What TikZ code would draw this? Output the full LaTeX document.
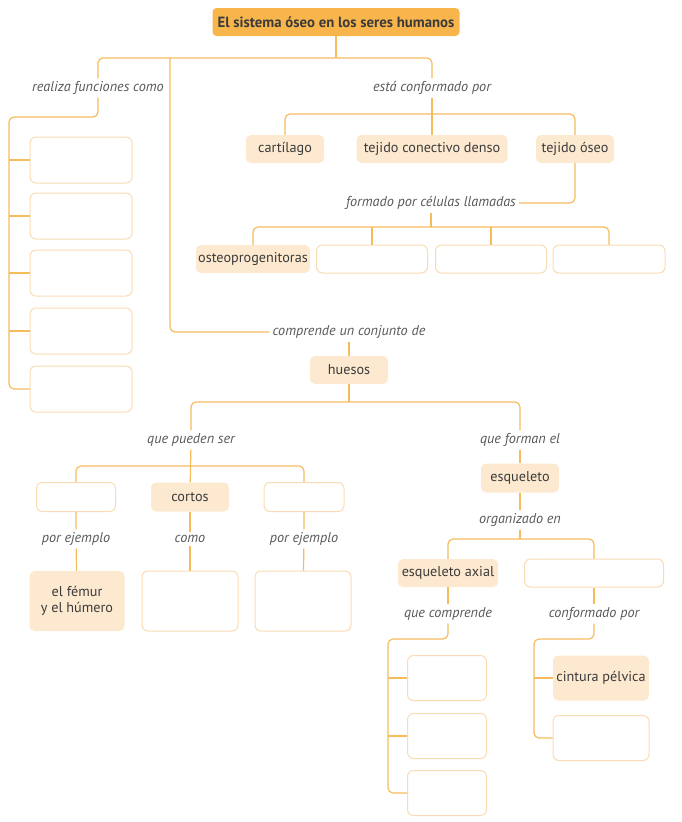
\documentclass[tikz,border=0pt]{standalone}
\usepackage{fontspec}
\setmainfont{PT Sans}
\definecolor{naranja}{HTML}{F8B54B}
\definecolor{crema}{HTML}{FDE9CF}
\definecolor{linea}{HTML}{F5BC5C}
\definecolor{borde}{HTML}{FADCB4}
\definecolor{texto}{HTML}{3B3B3B}
\begin{document}
\begin{tikzpicture}[x=1pt, y=-1pt, font=\fontsize{14.2}{16}\selectfont, text=texto,
	conn/.style={draw=linea, line width=1.2pt, rounded corners=5pt},
	titulo/.style={fill=naranja, rounded corners=4pt, font=\fontsize{14.8}{17}\selectfont\bfseries, inner sep=0pt},
	lleno/.style={fill=crema, rounded corners=5pt, inner sep=0pt, align=center},
	vacio/.style={draw=borde, line width=1pt, fill=white, rounded corners=6pt, inner sep=0pt},
	rotulo/.style={font=\fontsize{14.2}{16}\selectfont\itshape, text=texto!85, inner sep=3pt}]
				\useasboundingbox (0,0) rectangle (681,822);
				\path (336,58) coordinate (tb) (170,58) coordinate (tb2) (9,117) coordinate (L) (432,114) coordinate (cb) (431,227) coordinate (fb) (349,402) coordinate (hb) (191,466) coordinate (pb) (520,539) coordinate (ob) (388,639) coordinate (qL) (534,639) coordinate (pL);
				\node[titulo, minimum width=247, minimum height=28] (T) at (336,22) {El sistema óseo en los seres humanos};
				\node[rotulo] (fun) at (98,88) {realiza funciones como};
				\node[rotulo] (conf) at (432,88) {está conformado por};
				\foreach \i/\y in {1/160, 2/216, 3/273, 4/331, 5/389}{
				\node[vacio, minimum width=102, minimum height=46] (f\i) at (81,\y) {};
				}
				\node[lleno, minimum width=78, minimum height=28] (cart) at (285,149) {cartílago};
				\node[lleno, minimum width=151, minimum height=28] (tejc) at (432,149) {tejido conectivo denso};
				\node[lleno, minimum width=78, minimum height=28] (teo) at (575,149) {tejido óseo};
				\node[rotulo] (form) at (431,203) {formado por células llamadas};
				\node[lleno, minimum width=114, minimum height=28] (osteo) at (253,259) {osteoprogenitoras};
				\foreach \i/\x/\w in {2/372/111, 3/491/111, 4/609/112}{
				\node[vacio, minimum width=\w, minimum height=28] (c\i) at (\x,259) {};
				}
				\node[rotulo] (comp) at (349,332) {comprende un conjunto de};
				\node[lleno, minimum width=78, minimum height=28] (hue) at (349,370) {huesos};
				\node[rotulo] (pue) at (191,440) {que pueden ser};
				\node[rotulo] (for) at (520,440) {que forman el};
				\node[vacio, minimum width=79, minimum height=29] (t1) at (76,497) {};
				\node[lleno, minimum width=78, minimum height=29] (cor) at (190,497) {cortos};
				\node[vacio, minimum width=80, minimum height=29] (t3) at (304,497) {};
				\foreach \i/\x/\t in {1/76/{por ejemplo}, 2/190/{como}, 3/304/{por ejemplo}}{
				\node[rotulo] (e\i) at (\x,539) {\t};
				}
				\node[lleno, minimum width=95, minimum height=60] (n1) at (77,601) {el fémur\\y el húmero};
				\node[vacio, minimum width=96, minimum height=60] (n2) at (190,601) {};
				\node[vacio, minimum width=96, minimum height=60] (n3) at (303,601) {};
				\node[lleno, minimum width=78, minimum height=29] (esq) at (520,478) {esqueleto};
				\node[rotulo] (org) at (520,520) {organizado en};
				\node[lleno, minimum width=100, minimum height=28] (axi) at (448,573) {esqueleto axial};
				\node[vacio, minimum width=139, minimum height=28] (r2) at (594,573) {};
				\node[rotulo] (qc) at (448,614) {que comprende};
				\node[rotulo] (cp) at (594,614) {conformado por};
				\foreach \i/\y in {1/678, 2/736, 3/793}{
				\node[vacio, minimum width=79, minimum height=45] (a\i) at (447,\y) {};
				}
				\node[lleno, minimum width=96, minimum height=45] (p1) at (601,678) {cintura pélvica};
				\node[vacio, minimum width=96, minimum height=45] (p2) at (601,738) {};
				\draw[conn] (T) -- (tb);
				\draw[conn] (fun) |- (tb) -| (conf);
				\draw[conn] (tb2) |- (comp);
				\draw[conn] (fun) |- (L) |- (f5);
				\foreach \i in {1,...,4}{
				\draw[conn] (f\i.west -| L) -- (f\i.west);
				}
				\draw[conn] (conf) -- (tejc);
				\draw[conn] (cart) |- (cb) -| (teo);
				\draw[conn] (teo) |- (form);
				\draw[conn] (form) -- (fb);
				\draw[conn] (osteo) |- (fb) -| (c4);
				\foreach \i in {2,3}{
				\draw[conn] (c\i |- fb) -- (c\i);
				}
				\draw[conn] (comp) -- (hue);
				\draw[conn] (hue) -- (hb);
				\draw[conn] (pue) |- (hb) -| (for);
				\draw[conn] (pue) -- (cor);
				\draw[conn] (t1) |- (pb) -| (t3);
				\draw[conn] (t1) -- (e1) (e1) -- (n1);
				\draw[conn] (cor) -- (e2) (e2) -- (n2);
				\draw[conn] (t3) -- (e3) (e3) -- (n3);
				\draw[conn] (for) -- (esq);
				\draw[conn] (esq) -- (org);
				\draw[conn] (org) -- (ob);
				\draw[conn] (axi) |- (ob) -| (r2);
				\draw[conn] (axi) -- (qc);
				\draw[conn] (r2) -- (cp);
				\draw[conn] (qc) |- (qL) |- (a3);
				\foreach \i in {1,2}{
				\draw[conn] (a\i.west -| qL) -- (a\i.west);
				}
				\draw[conn] (cp) |- (pL) |- (p2);
				\draw[conn] (p1.west -| pL) -- (p1.west);
			\end{tikzpicture}
\end{document}
